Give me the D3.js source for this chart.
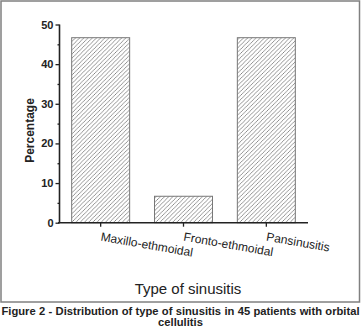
<!DOCTYPE html>
<html><head><meta charset="utf-8">
<script src="https://cdn.jsdelivr.net/npm/d3@7"></script>
<style>body{margin:0;background:#fff}svg{display:block;font-family:"Liberation Sans",Arial,sans-serif}</style>
</head><body><svg id="c" width="363" height="329"></svg>
<script>
const categories = ["Maxillo-ethmoidal", "Fronto-ethmoidal", "Pansinusitis"];
const percentages = [46.67, 6.67, 46.67];
const yTicks = [0, 10, 20, 30, 40, 50];
const xTitle = "Type of sinusitis";
const yTitle = "Percentage";
const captionLine1 = "Figure 2 - Distribution of type of sinusitis in 45 patients with orbital";
const captionLine2 = "cellulitis";

const svg = d3.select("#c");
const defs = svg.append("defs");
const pat = defs.append("pattern").attr("id","hatch").attr("patternUnits","userSpaceOnUse")
  .attr("width",4.2).attr("height",4.2);
pat.append("path").attr("d","M-1,1.05 l2.1,-2.1 M0,4.2 l4.2,-4.2 M3.15,5.25 l2.1,-2.1").attr("stroke","#7a7a7a").attr("stroke-width",0.8);

// frame
svg.append("rect").attr("x",1).attr("y",1).attr("width",358.5).attr("height",301)
  .attr("fill","none").attr("stroke","#808080").attr("stroke-width",1.5);

const x = d3.scaleBand().domain(categories).range([59, 308]).paddingInner(0.3).paddingOuter(0.153);
const y = d3.scaleLinear().domain([0, 50]).range([222.7, 24.5]);

svg.selectAll("rect.bar").data(percentages).join("rect").attr("class","bar")
  .attr("x",(d,i)=>x(categories[i])).attr("width",x.bandwidth())
  .attr("y",d=>y(d)).attr("height",d=>y(0)-y(d))
  .attr("fill","url(#hatch)").attr("stroke","#777").attr("stroke-width",1);

// y axis
const yAxis = svg.append("g").attr("transform","translate(59.5,0)")
  .call(d3.axisLeft(y).tickValues(yTicks).tickSize(4).tickPadding(2));
yAxis.select(".domain").attr("stroke","#222").attr("stroke-width",1.6).attr("d",`M0,${y(50)}V${y(0)}`);
yAxis.selectAll(".tick line").attr("stroke","#222").attr("stroke-width",1.3);
yAxis.selectAll(".tick text").attr("font-size",11).attr("font-weight","bold").attr("fill","#222")
  .attr("font-family","Liberation Sans, Arial, sans-serif");
const minor = svg.append("g").attr("transform","translate(59.5,0)")
  .call(d3.axisLeft(y).tickValues([5,15,25,35,45]).tickSize(2).tickFormat(""));
minor.select(".domain").remove();
minor.selectAll(".tick line").attr("stroke","#222").attr("stroke-width",1.3);

// x axis
const xAxis = svg.append("g").attr("transform",`translate(0,${y(0)})`)
  .call(d3.axisBottom(x).tickSize(4).tickSizeOuter(0).tickFormat(""));
xAxis.select(".domain").attr("stroke","#222").attr("stroke-width",1.6).attr("d","M58,0H308");
xAxis.selectAll(".tick line").attr("stroke","#222").attr("stroke-width",1.3);

// rotated category labels
svg.selectAll("text.cat").data(categories).join("text").attr("class","cat")
  .attr("transform",d=>`translate(${x(d)+x.bandwidth()/2+1},${232}) rotate(10)`)
  .attr("dy","0.72em").attr("font-size",12).attr("fill","#222")
  .text(d=>d);

// axis titles
svg.append("text").attr("x",188).attr("y",294).attr("text-anchor","middle")
  .attr("font-size",15).attr("fill","#222").text(xTitle);
svg.append("text").attr("transform","translate(33.5,130.5) rotate(-90)").attr("text-anchor","middle")
  .attr("font-size",12).attr("font-weight","bold").attr("fill","#222").text(yTitle);

// caption, justified line 1
const words = captionLine1.split(" ");
const cg = svg.append("g").attr("font-size",11.2).attr("font-weight","bold").attr("fill","#222");
const tw = words.map(w=>cg.append("text").attr("y",315).text(w));
const widths = tw.map(t=>t.node().getComputedTextLength());
const total = d3.sum(widths);
const left = 1.5, right = 359.5;
const gap = (right-left-total)/(words.length-1);
let cx = left;
tw.forEach((t,i)=>{ t.attr("x",cx); cx += widths[i]+gap; });
cg.append("text").attr("x",180.5).attr("y",326).attr("text-anchor","middle").text(captionLine2);
</script></body></html>
